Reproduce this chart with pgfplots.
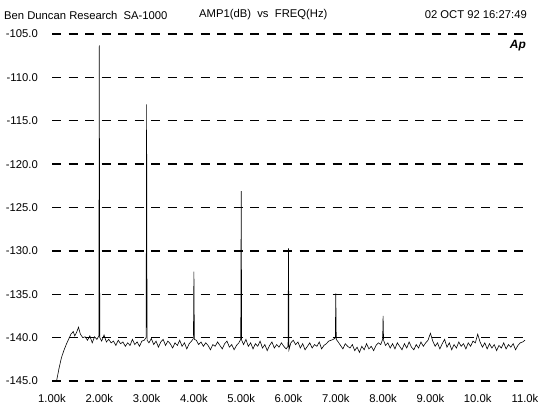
\documentclass[border=0pt]{standalone}
\usepackage{fontspec}
\setmainfont{Liberation Sans}
\usepackage{pgfplots}
\pgfplotsset{compat=1.18}
\begin{document}
\begin{tikzpicture}
\useasboundingbox (0,0) rectangle (538bp,412bp);
\begin{axis}[
  at={(52bp,31bp)}, anchor=south west,
  scale only axis, width=473bp, height=347bp,
  xmin=1000, xmax=11000, ymin=-145, ymax=-105,
  axis line style={draw=none},
  major tick length=0pt,
  ytick={-145,-140,...,-105},
  yticklabels={-145.0,-140.0,-135.0,-130.0,-125.0,-120.0,-115.0,-110.0,-105.0},
  xtick={1000,2000,...,11000},
  xticklabels={1.00k,2.00k,3.00k,4.00k,5.00k,6.00k,7.00k,8.00k,9.00k,10.0k,11.0k},
  ymajorgrids,
  grid style={black, line width=1.3pt, dash pattern=on 9bp off 7.5bp},
  tick label style={font=\fontsize{11.3}{13}\selectfont},
  yticklabel style={anchor=east, inner sep=0pt, xshift=-14bp},
  xticklabel style={anchor=north, inner sep=0pt, yshift=-13bp},
  clip=false,
]
\addplot[black, line width=0.6pt] table {
1000 -145.0
1050 -145.0
1100 -144.9
1150 -143.5
1200 -142.3
1250 -141.5
1300 -140.8
1350 -140.2
1400 -139.6
1450 -139.3
1480 -139.8
1520 -139.4
1560 -138.8
1600 -139.6
1650 -140.0
1700 -139.9
1750 -140.3
1800 -139.8
1850 -140.6
1900 -139.9
1950 -140.2
1990 -139.8
2000 -106.3
2010 -140.0
2050 -140.4
2100 -139.7
2150 -140.5
2200 -140.2
2250 -140.6
2300 -140.4
2350 -140.9
2400 -140.3
2450 -140.7
2500 -140.5
2550 -141.0
2600 -140.6
2650 -140.9
2700 -140.2
2750 -140.8
2800 -140.5
2850 -141.0
2900 -140.4
2950 -140.3
2990 -140.0
3000 -113.1
3010 -140.3
3050 -140.6
3100 -140.1
3150 -140.8
3200 -140.4
3250 -141.1
3300 -140.5
3350 -140.2
3400 -140.9
3450 -140.4
3500 -140.7
3550 -141.2
3600 -140.6
3650 -140.9
3700 -140.3
3750 -141.0
3800 -140.6
3850 -141.3
3900 -140.7
3950 -140.4
3990 -140.1
4000 -132.4
4010 -140.2
4050 -140.3
4100 -140.8
4150 -140.5
4200 -141.0
4250 -140.6
4300 -140.9
4350 -141.4
4400 -140.8
4450 -141.0
4500 -140.5
4550 -140.9
4600 -141.3
4650 -140.7
4700 -140.4
4750 -141.1
4800 -140.8
4850 -141.4
4900 -140.9
4950 -140.6
4990 -140.2
5000 -123.1
5010 -140.3
5050 -140.8
5100 -140.2
5150 -141.0
5200 -140.6
5250 -141.3
5300 -140.7
5350 -141.0
5400 -140.4
5450 -141.2
5500 -140.8
5550 -141.5
5600 -140.9
5650 -140.5
5700 -141.2
5750 -140.8
5800 -141.1
5850 -140.6
5900 -141.0
5950 -141.3
5990 -141.0
6000 -129.7
6010 -141.4
6050 -140.6
6100 -140.3
6150 -140.8
6200 -140.5
6250 -141.2
6300 -140.7
6350 -141.4
6400 -141.0
6450 -140.6
6500 -141.2
6550 -140.8
6600 -141.0
6650 -140.5
6700 -141.3
6750 -140.9
6800 -140.7
6850 -140.4
6950 -140.2
6990 -140.0
7000 -134.9
7010 -140.2
7050 -140.5
7100 -140.9
7150 -141.3
7200 -140.7
7250 -141.0
7300 -141.2
7350 -140.8
7400 -141.5
7450 -141.1
7500 -141.7
7550 -141.0
7600 -141.4
7650 -140.7
7700 -141.3
7750 -141.0
7800 -141.5
7850 -140.9
7900 -140.6
7950 -140.8
7990 -140.2
8000 -137.5
8010 -140.3
8050 -140.9
8100 -140.6
8150 -141.2
8200 -140.7
8250 -141.3
8300 -140.6
8350 -141.0
8400 -141.4
8450 -140.7
8500 -141.2
8550 -140.5
8600 -141.1
8650 -141.4
8700 -140.8
8750 -141.2
8800 -140.5
8850 -141.0
8900 -140.6
8950 -140.3
9000 -139.5
9050 -140.4
9100 -141.0
9150 -140.6
9200 -141.3
9250 -140.7
9300 -140.2
9350 -141.1
9400 -140.6
9450 -141.4
9500 -140.8
9550 -141.2
9600 -140.5
9650 -141.0
9700 -140.7
9750 -141.3
9800 -140.6
9850 -141.0
9900 -140.4
9950 -140.6
10000 -139.6
10050 -140.5
10100 -141.1
10150 -140.6
10200 -141.3
10250 -140.7
10300 -141.2
10350 -140.8
10400 -141.5
10450 -140.9
10500 -141.2
10550 -140.6
10600 -141.3
10650 -140.8
10700 -141.1
10750 -140.7
10800 -141.4
10850 -140.9
10900 -140.6
10950 -140.5
11000 -140.3
};
\end{axis}
\begin{scope}[every node/.style={font=\fontsize{11.3}{13}\selectfont, inner sep=0pt}]
\node[anchor=west] at (4bp,397bp) {Ben Duncan Research\ \ SA-1000};
\node[anchor=west] at (199bp,397bp) {AMP1(dB)\ \ vs\ \ FREQ(Hz)};
\node[anchor=east] at (527bp,397bp) {02 OCT 92 16:27:49};
\node[anchor=east, font=\fontsize{12}{14}\selectfont\bfseries\itshape] at (526bp,366bp) {Ap};
\end{scope}
\end{tikzpicture}
\end{document}
